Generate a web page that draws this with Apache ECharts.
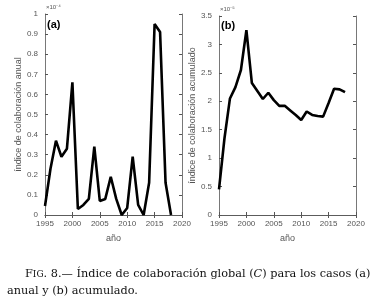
<!DOCTYPE html>
<html><head><meta charset="utf-8">
<script src="https://cdn.jsdelivr.net/npm/echarts@6/dist/echarts.min.js"></script>
<style>html,body{margin:0;padding:0;background:#fff}#c{width:383px;height:305px}</style>
</head><body><div id="c"></div>
<script>
const years = [1995,1996,1997,1998,1999,2000,2001,2002,2003,2004,2005,2006,2007,2008,2009,2010,2011,2012,2013,2014,2015,2016,2017,2018];
// (a) annual index, units of 1e-4
const anual = [0.045,0.23,0.37,0.29,0.33,0.66,0.03,0.05,0.08,0.34,0.07,0.08,0.19,0.08,0.0,0.035,0.29,0.05,0.0,0.16,0.95,0.91,0.16,0.0];
// (b) cumulative index, units of 1e-5
const acumulado = [0.45,1.35,2.05,2.25,2.55,3.25,2.32,2.18,2.04,2.15,2.02,1.92,1.92,1.84,1.76,1.67,1.82,1.76,1.74,1.73,1.97,2.22,2.21,2.16];
const xTicks = [1995,2000,2005,2010,2015,2020];
const yTicksA = [0,0.1,0.2,0.3,0.4,0.5,0.6,0.7,0.8,0.9,1];
const yTicksB = [0,0.5,1,1.5,2,2.5,3,3.5];

const chart = echarts.init(document.getElementById('c'));
const lab = {fontFamily:'Liberation Sans, Arial', fontSize:8, color:'#555'};
const axLine = {show:true, lineStyle:{color:'#555', width:0.8}};
function xAx(gi, pos, showLab){
  return {type:'value', gridIndex:gi, position:pos, min:xTicks[0], max:xTicks[xTicks.length-1], interval:5,
    axisLine:axLine, axisTick:{show:true, inside:true, length:3, lineStyle:{color:'#555'}},
    axisLabel:Object.assign({show:showLab, margin:5, formatter:v=>String(v)}, lab),
    splitLine:{show:false},
    name: showLab ? 'año' : '', nameLocation:'middle', nameGap:19,
    nameTextStyle:{fontFamily:'Liberation Sans, Arial', fontSize:9, color:'#555'}};
}
function yAx(gi, pos, showLab, ticks, interval, name, gap){
  return {type:'value', gridIndex:gi, position:pos, min:ticks[0], max:ticks[ticks.length-1], interval:interval,
    axisLine:axLine, axisTick:{show:true, inside:true, length:3, lineStyle:{color:'#555'}},
    axisLabel:Object.assign({show:showLab, margin:7, formatter:v=>String(+v.toFixed(2))}, lab),
    splitLine:{show:false},
    name: showLab ? name : '', nameLocation:'middle', nameGap:gap,
    nameTextStyle:{fontFamily:'Liberation Sans, Arial', fontSize:9, color:'#555'}};
}
const serif = 'DejaVu Serif, serif';
chart.setOption({
  animation:false,
  grid:[{left:45,right:201,top:14,bottom:90},{left:219,right:27,top:16,bottom:90}],
  xAxis:[xAx(0,'bottom',true), xAx(0,'top',false), xAx(1,'bottom',true), xAx(1,'top',false)],
  yAxis:[yAx(0,'left',true,yTicksA,0.1,'índice de colaboración anual',17), yAx(0,'right',false,yTicksA,0.1,'',0),
         yAx(1,'left',true,yTicksB,0.5,'índice de colaboración acumulado',16), yAx(1,'right',false,yTicksB,0.5,'',0)],
  series:[
    {type:'line', xAxisIndex:0, yAxisIndex:0, data:years.map((y,i)=>[y,anual[i]]), symbol:'none',
     lineStyle:{color:'#000', width:2.6}},
    {type:'line', xAxisIndex:2, yAxisIndex:2, data:years.map((y,i)=>[y,acumulado[i]]), symbol:'none',
     lineStyle:{color:'#000', width:2.6}}
  ],
  graphic:[
    {type:'text', left:47, top:19, style:{text:'(a)', font:'bold 11px Liberation Sans, Arial', fill:'#000'}},
    {type:'text', left:221, top:20, style:{text:'(b)', font:'bold 11px Liberation Sans, Arial', fill:'#000'}},
    {type:'text', left:46, top:4, style:{text:'×10⁻⁴', font:'6px Liberation Sans, Arial', fill:'#555'}},
    {type:'text', left:220, top:6, style:{text:'×10⁻⁵', font:'6px Liberation Sans, Arial', fill:'#555'}},
    {type:'text', left:25, top:269, style:{
      text:'{n|F}{s|IG}{n|. 8.— Índice de colaboración global (}{i|C}{n|) para los casos (a)}',
      rich:{n:{font:'11.3px '+serif, fill:'#111'}, s:{font:'9px '+serif, fill:'#111'}, i:{font:'italic 11.3px '+serif, fill:'#111'}}}},
    {type:'text', left:7, top:286, style:{text:'anual y (b) acumulado.', font:'11.3px '+serif, fill:'#111'}}
  ]
});
</script></body></html>
